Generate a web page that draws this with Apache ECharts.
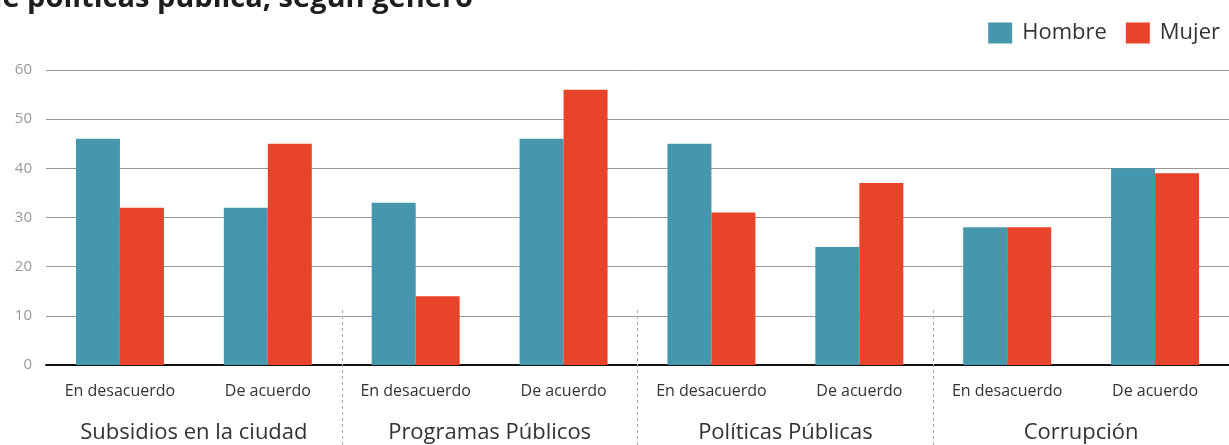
<!DOCTYPE html>
<html>
<head>
<meta charset="utf-8">
<script src="https://cdn.jsdelivr.net/npm/echarts@6/dist/echarts.min.js"></script>
<style>
  html, body { margin: 0; padding: 0; background: #fff; }
  #chart { width: 1229px; height: 445px; }
</style>
</head>
<body>
<div id="chart"></div>
<script>
// data
var titleText = 'de políticas pública, según género'
var categories = ['En desacuerdo', 'De acuerdo', 'En desacuerdo', 'De acuerdo',
  'En desacuerdo', 'De acuerdo', 'En desacuerdo', 'De acuerdo']
var groups = ['Subsidios en la ciudad', 'Programas Públicos', 'Políticas Públicas', 'Corrupción']
var hombre = [46, 32, 33, 46, 45, 24, 28, 40]
var mujer = [32, 45, 14, 56, 31, 37, 28, 39]
var yTicks = { min: 0, max: 60, interval: 10 }
var groupBreaks = [1, 2, 3] // dashed dividers between groups

var font = '"Open Sans", sans-serif'
var chart = echarts.init(document.getElementById('chart'))

chart.setOption({
  animation: false,
  textStyle: { fontFamily: font },
  graphic: [{
    type: 'text',
    x: 473,
    y: -1,
    style: {
      text: titleText,
      align: 'right',
      verticalAlign: 'middle',
      font: 'bold 29px ' + font,
      fill: '#1e1e1e'
    }
  }],
  legend: {
    data: ['Hombre', 'Mujer'],
    right: 4,
    top: 17,
    itemWidth: 24,
    itemHeight: 21,
    itemGap: 19,
    icon: 'rect',
    textStyle: { fontSize: 22, color: '#333', padding: [0, 0, 0, 5] }
  },
  grid: { left: 46, top: 70, width: 1184, height: 295 },
  xAxis: [{
    type: 'category',
    data: categories,
    axisLine: { lineStyle: { color: '#111', width: 2 } },
    axisTick: { show: false },
    axisLabel: { interval: 0, margin: 18, fontSize: 16, color: '#333' }
  }, {
    // group dividers
    type: 'value',
    min: 0,
    max: groups.length,
    position: 'bottom',
    offset: 80,
    axisLine: { show: false },
    axisLabel: { show: false },
    splitLine: { show: false },
    axisTick: {
      show: true,
      inside: true,
      length: 135,
      customValues: groupBreaks,
      lineStyle: { color: '#aaa', type: [3, 3], width: 1 }
    }
  }, {
    // group labels
    type: 'category',
    data: groups,
    position: 'bottom',
    axisLine: { show: false },
    axisTick: { show: false },
    axisLabel: { interval: 0, margin: 57, fontSize: 22, color: '#333' }
  }],
  yAxis: {
    type: 'value',
    min: yTicks.min,
    max: yTicks.max,
    interval: yTicks.interval,
    axisLine: { show: false },
    axisTick: { show: false },
    axisLabel: { margin: 14, fontSize: 15, color: '#999' },
    splitLine: { lineStyle: { color: '#9a9a9a', width: 1 } }
  },
  series: [{
    name: 'Hombre',
    type: 'bar',
    data: hombre,
    barWidth: 44,
    barGap: '0%',
    itemStyle: { color: '#4597ad' }
  }, {
    name: 'Mujer',
    type: 'bar',
    data: mujer,
    barWidth: 44,
    barGap: '0%',
    itemStyle: { color: '#e8432b' }
  }]
})
</script>
</body>
</html>
